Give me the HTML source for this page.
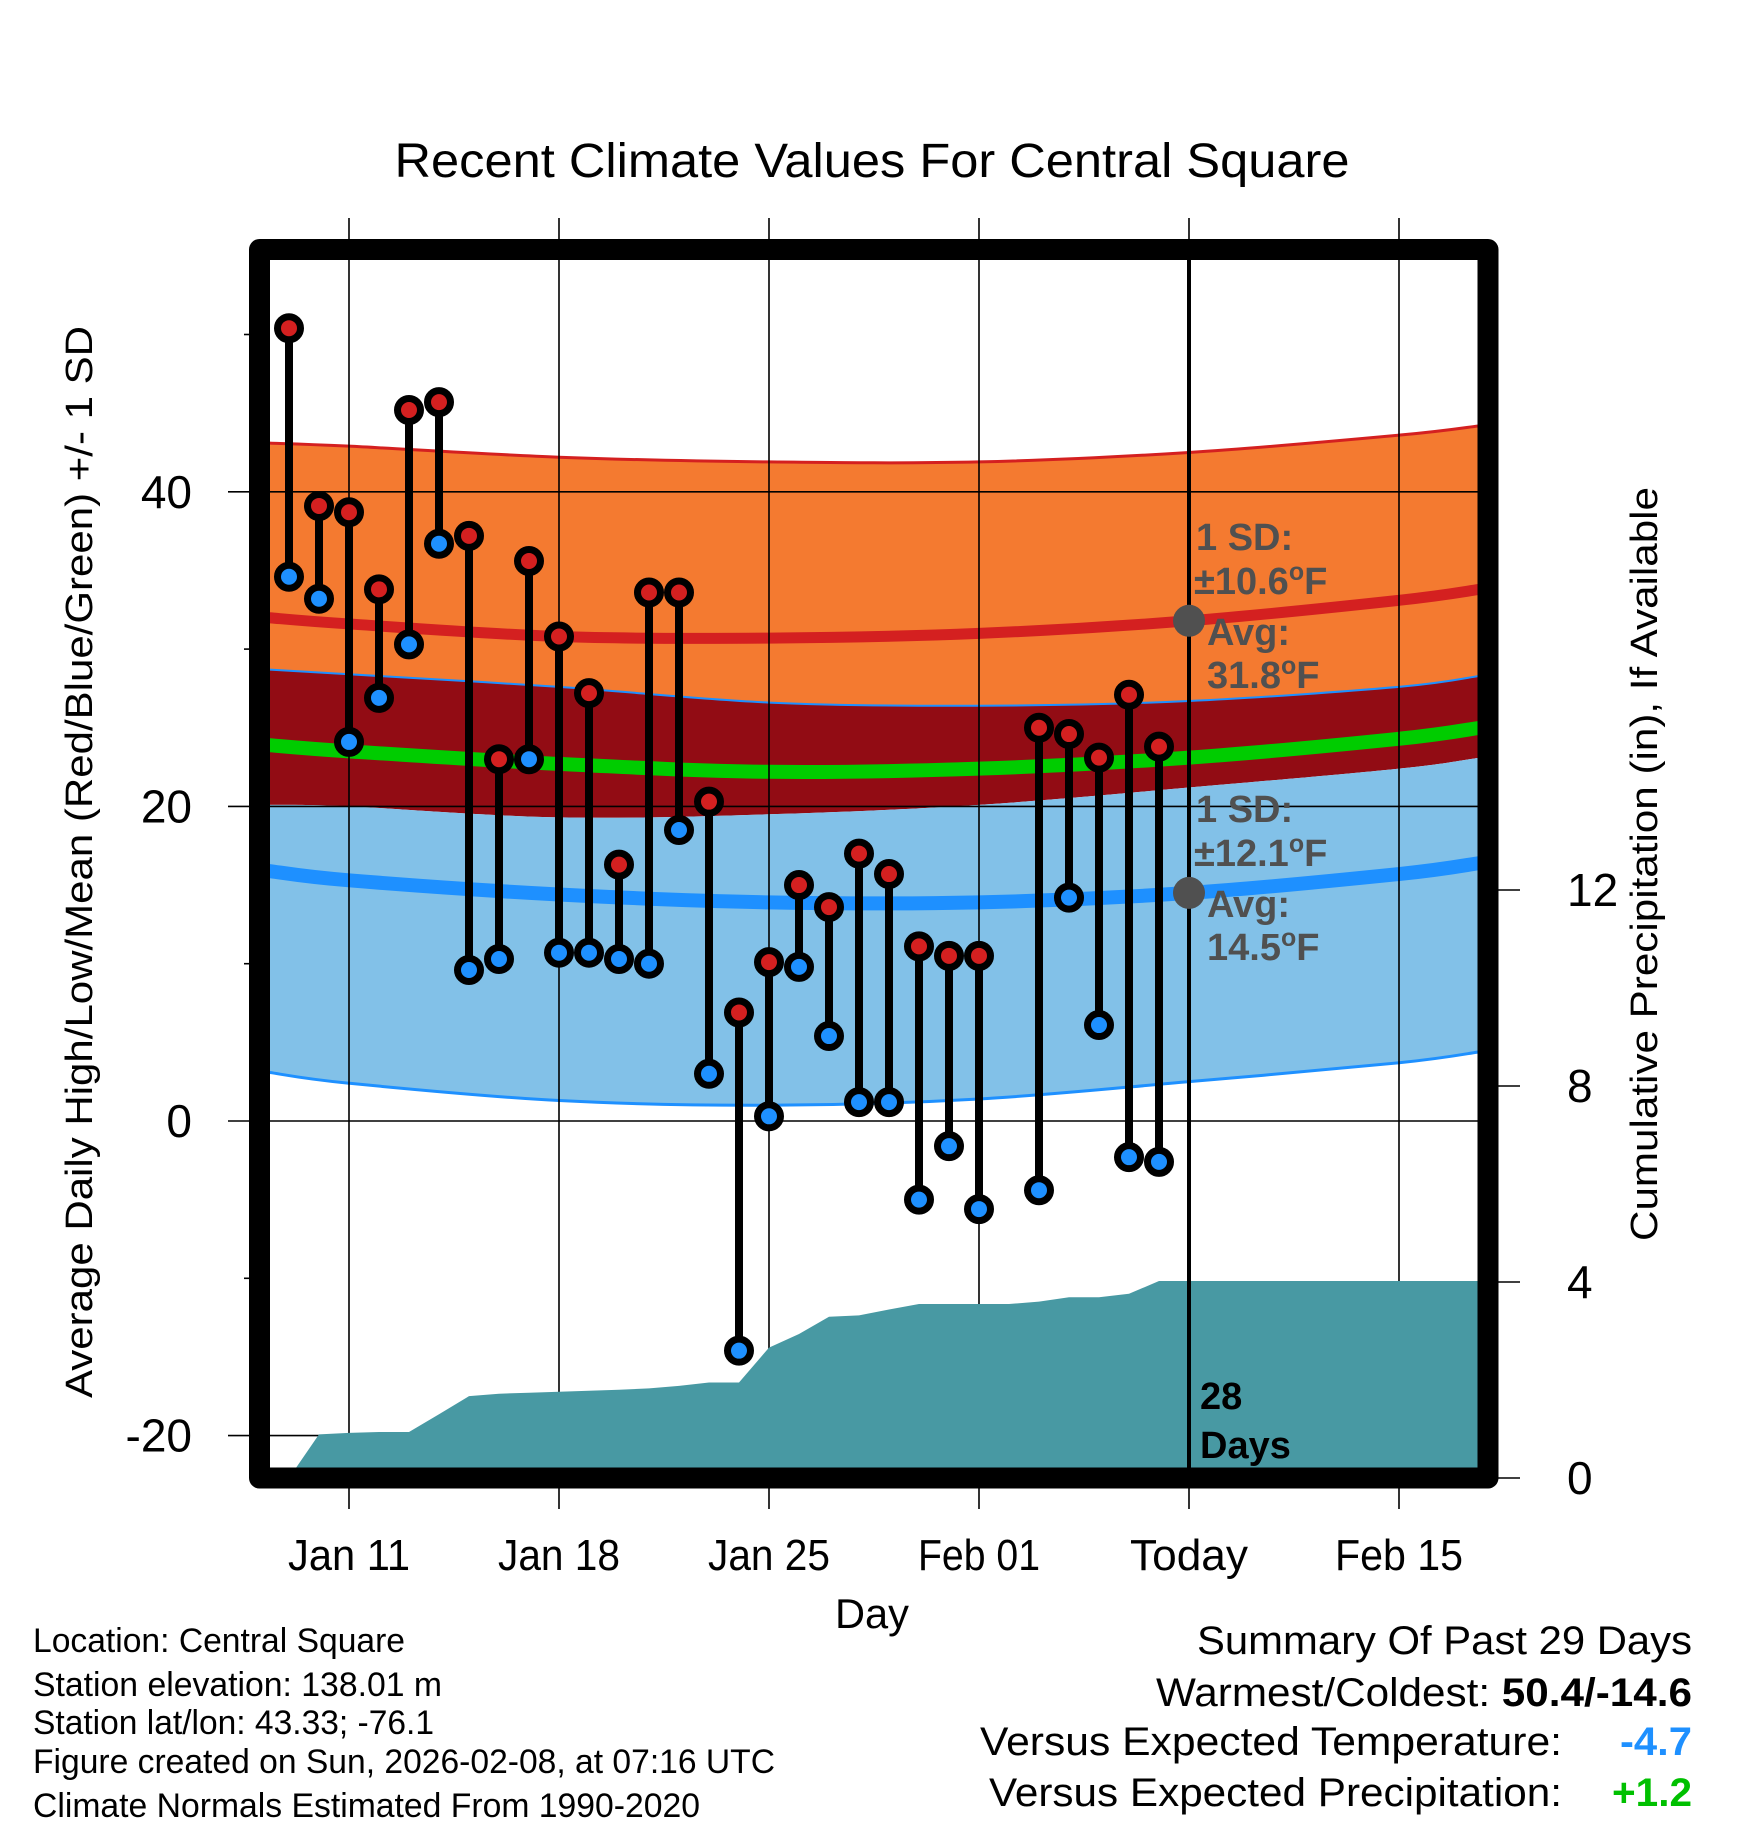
<!DOCTYPE html>
<html><head><meta charset="utf-8"><style>
html,body{margin:0;padding:0;background:#fff;}
svg{display:block;font-family:"Liberation Sans",sans-serif;}
</style></head>
<body>
<svg id="chart" width="1748" height="1828" viewBox="0 0 1748 1828" xmlns="http://www.w3.org/2000/svg">
<defs><clipPath id="plotclip"><rect x="270" y="260" width="1208" height="1208"/></clipPath></defs>
<g id="bands" clip-path="url(#plotclip)"></g>
<g id="grid"></g>
<g id="precip" clip-path="url(#plotclip)"></g>
<g id="marks"></g>
<rect x="259.5" y="249.5" width="1228.5" height="1228.5" fill="none" stroke="#000" stroke-width="21" stroke-linejoin="round"/>
<g id="labels"></g>
<text x="872" y="177" text-anchor="middle" font-size="48" textLength="955" lengthAdjust="spacingAndGlyphs">Recent Climate Values For Central Square</text>
<text transform="translate(92,862) rotate(-90)" text-anchor="middle" font-size="38" textLength="1072" lengthAdjust="spacingAndGlyphs">Average Daily High/Low/Mean (Red/Blue/Green) +/- 1 SD</text>
<text transform="translate(1657,864) rotate(-90)" text-anchor="middle" font-size="38" textLength="754" lengthAdjust="spacingAndGlyphs">Cumulative Precipitation (in), If Available</text>
<text x="872" y="1628" text-anchor="middle" font-size="42" textLength="74" lengthAdjust="spacingAndGlyphs">Day</text>
<g font-size="34">
<text x="33" y="1652" textLength="372" lengthAdjust="spacingAndGlyphs">Location: Central Square</text>
<text x="33" y="1696" textLength="409" lengthAdjust="spacingAndGlyphs">Station elevation: 138.01 m</text>
<text x="33" y="1734" textLength="401" lengthAdjust="spacingAndGlyphs">Station lat/lon: 43.33; -76.1</text>
<text x="33" y="1773" textLength="742" lengthAdjust="spacingAndGlyphs">Figure created on Sun, 2026-02-08, at 07:16 UTC</text>
<text x="33" y="1817" textLength="667" lengthAdjust="spacingAndGlyphs">Climate Normals Estimated From 1990-2020</text>
</g>
<g font-size="40">
<text x="1692" y="1654" text-anchor="end" textLength="495" lengthAdjust="spacingAndGlyphs">Summary Of Past 29 Days</text>
<text x="1692" y="1706" text-anchor="end" textLength="536" lengthAdjust="spacingAndGlyphs">Warmest/Coldest: <tspan font-weight="bold">50.4/-14.6</tspan></text>
<text x="1562" y="1755" text-anchor="end" textLength="582" lengthAdjust="spacingAndGlyphs">Versus Expected Temperature:</text>
<text x="1692" y="1755" text-anchor="end" font-weight="bold" fill="#1e90ff" textLength="72" lengthAdjust="spacingAndGlyphs">-4.7</text>
<text x="1562" y="1806" text-anchor="end" textLength="573" lengthAdjust="spacingAndGlyphs">Versus Expected Precipitation:</text>
<text x="1692" y="1806" text-anchor="end" font-weight="bold" fill="#00c000" textLength="80" lengthAdjust="spacingAndGlyphs">+1.2</text>
</g>
</svg>
<script>
// ---- data ----
const dayLabels = ["Jan 11","Jan 18","Jan 25","Feb 01","Today","Feb 15"];
const leftTicks = [-20,0,20,40];
const leftMinor = [-10,10,30,50];
const rightTicks = [0,4,8,12];
// observed days: offset from Jan 11 (Jan 9 = -2)
const obsDays = [-2,-1,0,1,2,3,4,5,6,7,8,9,10,11,12,13,14,15,16,17,18,19,20,21,23,24,25,26,27];
const highs = [50.4,39.1,38.7,33.8,45.2,45.7,37.2,23.0,35.6,30.8,27.2,16.3,33.6,33.6,20.3,6.9,10.1,15.0,13.6,17.0,15.7,11.1,10.5,10.5,25.0,24.6,23.1,27.1,23.8];
const lows  = [34.6,33.2,24.1,26.9,30.3,36.7,9.6,10.3,23.0,10.7,10.7,10.3,10.0,18.5,3.0,-14.6,0.3,9.8,5.4,1.2,1.2,-5.0,-1.6,-5.6,-4.4,14.2,6.1,-2.3,-2.6];
// precipitation per day Jan 9..Feb 7 (offset -2..27)
const precipDays = [-2,-1,0,1,2,3,4,5,6,7,8,9,10,11,12,13,14,15,16,17,18,19,20,21,22,23,24,25,26,27];
const precip = [0,0.89,0.92,0.94,0.94,1.30,1.67,1.72,1.74,1.76,1.78,1.80,1.83,1.88,1.95,1.95,2.66,2.94,3.29,3.32,3.44,3.55,3.55,3.55,3.55,3.60,3.69,3.69,3.76,4.02];
// normals nodes (offset from Jan 11)
const normDays = [-2.7,0,7,14,21,28,35,37.7];
const hiUpper = [43.1,42.9,42.2,41.9,41.9,42.5,43.6,44.2];
const hiAvg   = [32.0,31.6,30.8,30.7,31.0,31.8,33.1,33.8];
const hiLower = [20.1,20.0,19.3,19.5,20.1,21.2,22.4,23.1];
const loUpper = [28.7,28.4,27.6,26.6,26.4,26.7,27.6,28.3];
const loAvg   = [15.9,15.3,14.4,13.9,13.9,14.5,15.7,16.4];
const loLower = [3.1,2.4,1.3,1.0,1.4,2.5,3.7,4.4];
const meanAvg = [23.9,23.5,22.7,22.2,22.4,23.1,24.3,25.0];
const annot = [{v:31.8,sd:"10.6"},{v:14.5,sd:"12.1"}];
const todayOffset = 28;

// ---- scales ----
const X = d => 349 + d*30;
const Y = t => 1121 - t*15.73;
const YP = p => 1478 - p*49;
const NS = "http://www.w3.org/2000/svg";
function mk(tag, attrs, parent){const e=document.createElementNS(NS,tag);for(const k in attrs)e.setAttribute(k,attrs[k]);parent.appendChild(e);return e;}
function pts(days, vals){return days.map((d,i)=>[X(d),Y(vals[i])]);}
function smooth(p){let s="M"+p[0][0]+","+p[0][1];for(let i=0;i<p.length-1;i++){const p0=p[i-1]||p[i],p1=p[i],p2=p[i+1],p3=p[i+2]||p2;
 const c1=[p1[0]+(p2[0]-p0[0])/6,p1[1]+(p2[1]-p0[1])/6],c2=[p2[0]-(p3[0]-p1[0])/6,p2[1]-(p3[1]-p1[1])/6];
 s+=` C${c1[0]},${c1[1]} ${c2[0]},${c2[1]} ${p2[0]},${p2[1]}`;}return s;}
function band(up, lo){const a=pts(normDays,up),b=pts(normDays,lo).reverse();return smooth(a)+" L"+b[0][0]+","+b[0][1]+smooth(b).replace(/^M[^C]*/," ")+" Z";}

const bands=document.getElementById('bands');
let e;
e=mk('path',{d:band(hiUpper,loUpper),fill:'#f47a30'},bands);


e=mk('path',{d:band(loUpper,hiLower),fill:'#920c14'},bands);


e=mk('path',{d:band(hiLower,loLower),fill:'#82c1e8'},bands);


const lines=[[hiUpper,'#d42020',3,'high-upper-line'],[loUpper,'#1e90ff',2,'low-upper-line'],[loLower,'#1e90ff',3,'low-lower-line'],[hiAvg,'#d42020',11,'high-avg-line'],[meanAvg,'#00cc00',14,'mean-avg-line'],[loAvg,'#1e90ff',14,'low-avg-line']];
lines.forEach(l=>{const p=mk('path',{d:smooth(pts(normDays,l[0])),fill:'none',stroke:l[1],'stroke-width':l[2]},bands);
 
 });

const grid=document.getElementById('grid');
dayLabels.forEach((lab,i)=>{const x=X(i*7);
 const g=mk('line',{x1:x,x2:x,y1:218,y2:1509,stroke:'#000','stroke-width':1.6},grid);
 
 
 const t=mk('text',{x:x,y:1570,'text-anchor':'middle','font-size':44,textLength:lab==="Today"?118:(lab==="Feb 15"?128:122),lengthAdjust:'spacingAndGlyphs'},grid);
 t.textContent=lab;
 
 });
leftTicks.forEach(v=>{const y=Y(v);
 const g=mk('line',{x1:228,x2:1478,y1:y,y2:y,stroke:'#000','stroke-width':1.6},grid);
 
 
 const t=mk('text',{x:192,y:y+16,'text-anchor':'end','font-size':46},grid);
 t.textContent=v;
 
 });
leftMinor.forEach(v=>{const y=Y(v);
 const g=mk('line',{x1:244,x2:252,y1:y,y2:y,stroke:'#000','stroke-width':1.6},grid);
 
 });
rightTicks.forEach(v=>{const y=YP(v);
 const g=mk('line',{x1:1495,x2:1520,y1:y,y2:y,stroke:'#000','stroke-width':1.6},grid);
 
 
 const t=mk('text',{x:1567,y:y+16,'font-size':46},grid);
 t.textContent=v;
 
 });

const pg=document.getElementById('precip');
let pd="M"+X(precipDays[0])+",1500";
precipDays.forEach((d,i)=>{pd+=" L"+X(d)+","+YP(precip[i]);});
pd+=" L1490,"+YP(precip[precip.length-1])+" L1490,1500 Z";
e=mk('path',{d:pd,fill:'#4899a3'},pg);



const m=document.getElementById('marks');
e=mk('line',{x1:X(todayOffset),x2:X(todayOffset),y1:260,y2:1468,stroke:'#000','stroke-width':4},m);


obsDays.forEach((d,i)=>{const x=X(d);
 const s=mk('line',{x1:x,x2:x,y1:Y(highs[i]),y2:Y(lows[i]),stroke:'#000','stroke-width':8},m);
 
 });
obsDays.forEach((d,i)=>{const x=X(d);
 const h=mk('circle',{cx:x,cy:Y(highs[i]),r:11.5,fill:'#d42020',stroke:'#000','stroke-width':7},m);
 
 
 const l=mk('circle',{cx:x,cy:Y(lows[i]),r:11.5,fill:'#1e90ff',stroke:'#000','stroke-width':7},m);
 
 });
annot.forEach(a=>{const y=Y(a.v),x=X(todayOffset);
 const c=mk('circle',{cx:x,cy:y,r:16,fill:'#505050'},m);
 
 
 const t=mk('text',{'font-size':38,'font-weight':'bold',fill:'#505050'},m);
 
 
 t.innerHTML=`<tspan x="${x+7}" y="${y-71}">1 SD:</tspan><tspan x="${x+5}" y="${y-27}">±${a.sd}<tspan font-size="25" dy="-14">o</tspan><tspan dy="14">F</tspan></tspan><tspan x="${x+18}" y="${y+24}">Avg:</tspan><tspan x="${x+18}" y="${y+67}">${a.v.toFixed(1)}<tspan font-size="25" dy="-14">o</tspan><tspan dy="14">F</tspan></tspan>`;});
e=mk('text',{'font-size':38,'font-weight':'bold',fill:'#000'},m);


e.innerHTML=`<tspan x="1200" y="1409">28</tspan><tspan x="1200" y="1458">Days</tspan>`;
</script>
</body></html>
